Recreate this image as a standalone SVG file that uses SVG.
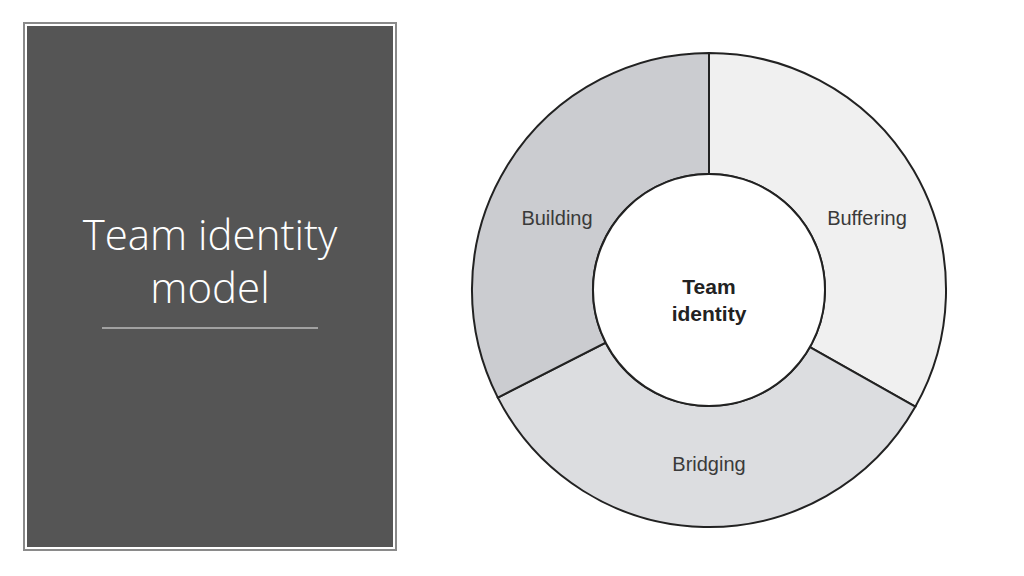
<svg xmlns="http://www.w3.org/2000/svg" width="1024" height="576" viewBox="0 0 1024 576">
<style>
.seg{stroke:#222;stroke-width:2}
.lbl{font-family:"Liberation Sans",Arial,sans-serif;font-size:20px;fill:#3a3a3a;text-anchor:middle}
.title{font-family:"Open Sans","Liberation Sans",sans-serif;font-weight:300;font-size:42px;fill:#fff;text-anchor:middle}
</style>
<rect width="1024" height="576" fill="#fff"/>
<g id="panel">
<rect x="24" y="23" width="372" height="527" fill="none" stroke="#8a8a8a" stroke-width="2"/>
<rect x="27" y="26" width="366" height="521" fill="#555"/>
<text class="title" x="210" y="250">Team identity</text>
<text class="title" x="210" y="303">model</text>
<line x1="102" y1="328" x2="318" y2="328" stroke="#bbb" stroke-width="1.5"/>
</g>
<g id="buffering">
<path class="seg" fill="#f0f0f0" d="M709,53 A237,237 0 0 1 915.3,406.7 L809.9,347.1 A116,116 0 0 0 709,174 Z"/>
<text class="lbl" x="867" y="225">Buffering</text>
</g>
<g id="bridging">
<path class="seg" fill="#dcdde0" d="M915.3,406.7 A237,237 0 0 1 497.8,397.6 L605.6,342.7 A116,116 0 0 0 809.9,347.1 Z"/>
<text class="lbl" x="709" y="471">Bridging</text>
</g>
<g id="building">
<path class="seg" fill="#cbccd0" d="M497.8,397.6 A237,237 0 0 1 709,53 L709,174 A116,116 0 0 0 605.6,342.7 Z"/>
<text class="lbl" x="557" y="225">Building</text>
</g>
<g id="center">
<circle cx="709" cy="290" r="116" fill="#fff" stroke="#222" stroke-width="2"/>
<text class="lbl" x="709" y="294" style="font-weight:bold;font-size:21px;fill:#222">Team</text>
<text class="lbl" x="709" y="321" style="font-weight:bold;font-size:21px;fill:#222">identity</text>
</g>
<g id="connectors"></g>
</svg>
